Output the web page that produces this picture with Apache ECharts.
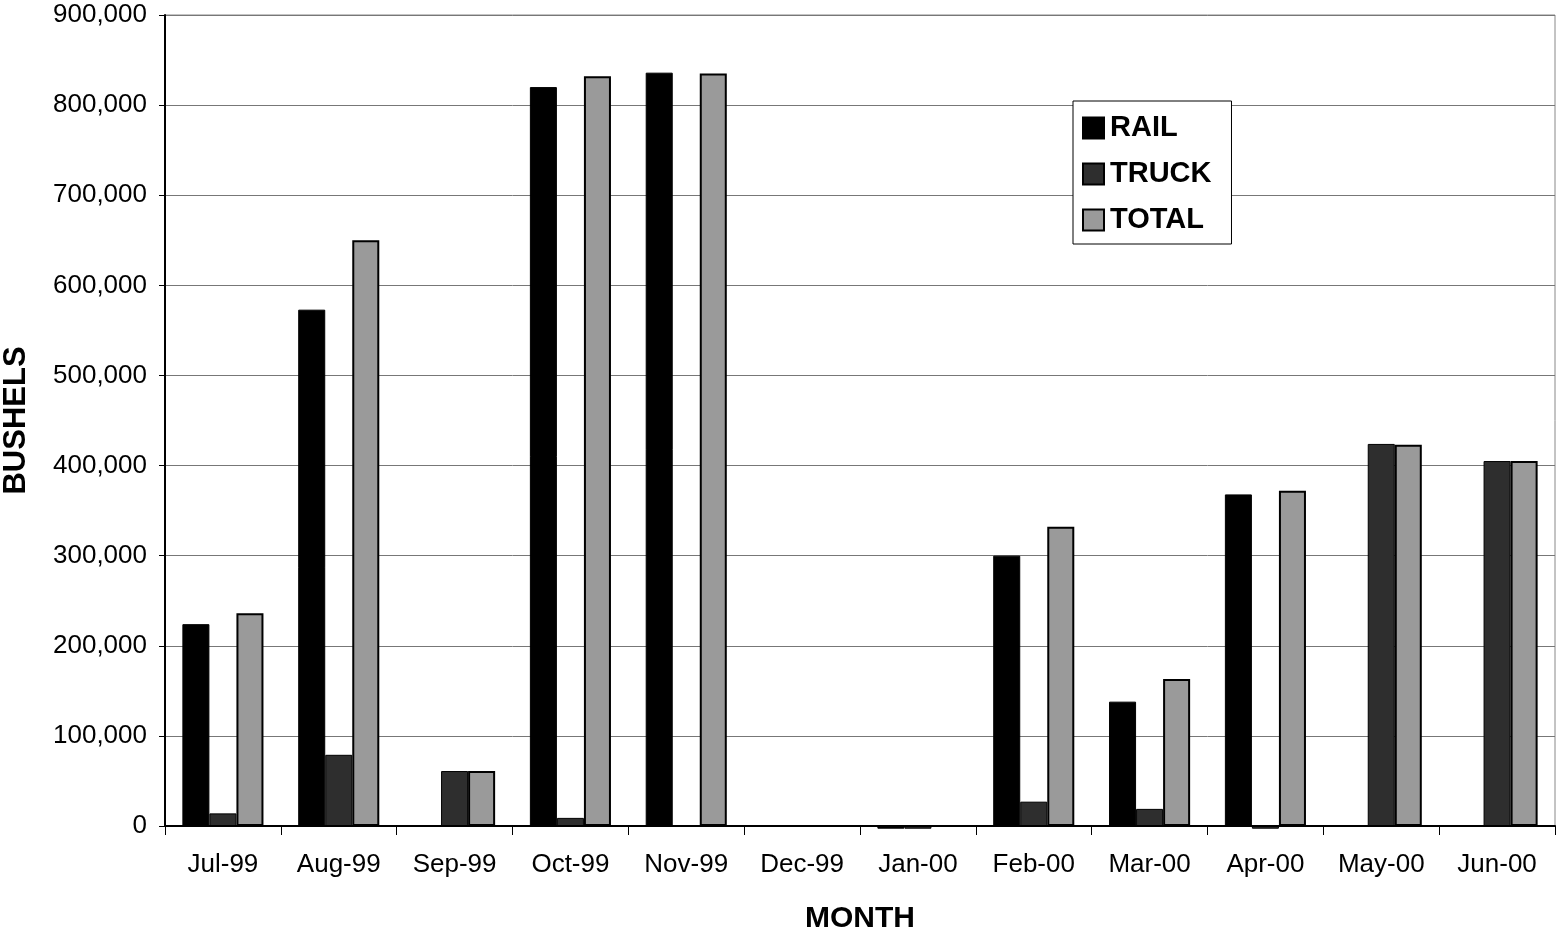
<!DOCTYPE html>
<html>
<head>
<meta charset="utf-8">
<script src="https://cdn.jsdelivr.net/npm/echarts@6/dist/echarts.min.js"></script>
<style>html,body{margin:0;padding:0;background:#fff}#c{width:1563px;height:933px}</style>
</head>
<body>
<div id="c"></div>
<script>
var months = ['Jul-99','Aug-99','Sep-99','Oct-99','Nov-99','Dec-99','Jan-00','Feb-00','Mar-00','Apr-00','May-00','Jun-00'];
var rail  = [224000, 573000, 0, 820000, 836000, 0, -3000, 300000, 138000, 368000, 0, 0];
var truck = [14000, 79000, 61000, 9000, 0, 0, -3000, 27000, 19000, -3000, 424000, 405000];
var total = [236000, 650000, 61000, 832000, 835000, 0, 0, 332000, 163000, 372000, 423000, 405000];
var yTicks = [0, 100000, 200000, 300000, 400000, 500000, 600000, 700000, 800000, 900000];

var chart = echarts.init(document.getElementById('c'), null, {renderer: 'canvas'});
var font = '"Liberation Sans", Arial, sans-serif';
chart.setOption({
  animation: false,
  backgroundColor: '#fff',
  textStyle: {fontFamily: font},
  grid: {left: 165, right: 8, top: 15, bottom: 107, show: true, borderColor: '#888', borderWidth: 1,
         containLabel: false, outerBoundsMode: 'none'},
  legend: {
    orient: 'vertical', left: 1073, top: 101,
    backgroundColor: '#fff', borderColor: '#000', borderWidth: 1,
    padding: [12, 20, 9, 9],
    itemWidth: 21, itemHeight: 21, itemGap: 16,
    icon: 'rect',
    textStyle: {fontFamily: font, fontWeight: 'bold', fontSize: 29, color: '#000', lineHeight: 30, padding: [0, 0, 0, 1]},
    data: ['RAIL', 'TRUCK', 'TOTAL']
  },
  xAxis: {
    type: 'category', data: months,
    name: 'MONTH', nameLocation: 'middle', nameGap: 78,
    nameTextStyle: {fontFamily: font, fontWeight: 'bold', fontSize: 30, color: '#000'},
    axisLine: {lineStyle: {color: '#000', width: 2}},
    axisTick: {show: true, interval: 0, length: 9, lineStyle: {color: '#000'}},
    axisLabel: {fontFamily: font, fontSize: 26, color: '#000', margin: 26, interval: 0}
  },
  yAxis: {
    type: 'value', min: 0, max: 900000, interval: 100000,
    name: 'BUSHELS', nameLocation: 'middle', nameGap: 133, nameRotate: 90,
    nameTextStyle: {fontFamily: font, fontWeight: 'bold', fontSize: 31, color: '#000'},
    axisLine: {show: true, lineStyle: {color: '#000', width: 2}},
    axisTick: {show: true, length: 6, lineStyle: {color: '#000'}},
    axisLabel: {fontFamily: font, fontSize: 26, color: '#000', margin: 18,
      formatter: function (v) { return yTicks.indexOf(v) >= 0 ? v.toLocaleString('en-US') : ''; }},
    splitLine: {lineStyle: {color: '#777', width: 1}}
  },
  series: [
    {name: 'RAIL', type: 'bar', data: rail, barGap: '0%', barCategoryGap: '30%', clip: false,
     itemStyle: {color: '#000', borderColor: '#000', borderWidth: 1}},
    {name: 'TRUCK', type: 'bar', data: truck, barGap: '0%', barCategoryGap: '30%', clip: false,
     itemStyle: {color: '#2e2e2e', borderColor: '#000', borderWidth: 1}},
    {name: 'TOTAL', type: 'bar', data: total, barGap: '0%', barCategoryGap: '30%', clip: false,
     itemStyle: {color: '#9a9a9a', borderColor: '#000', borderWidth: 2}}
  ]
});
</script>
</body>
</html>
